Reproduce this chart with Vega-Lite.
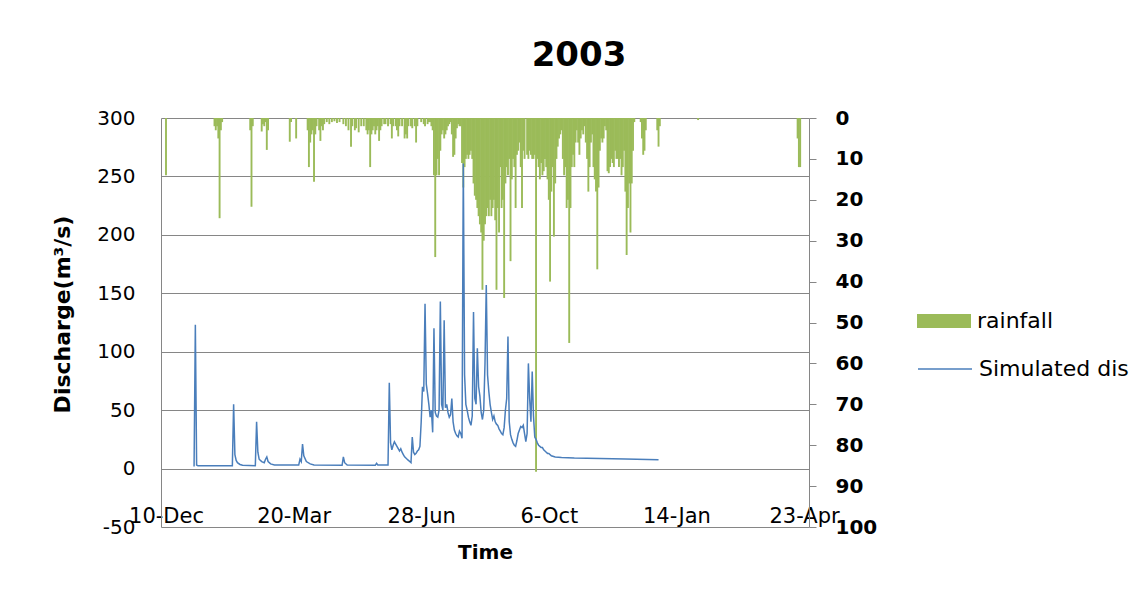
{
  "$schema": "https://vega.github.io/schema/vega-lite/v6.json",
  "width": 648,
  "height": 409,
  "autosize": {"type": "none"},
  "padding": {"left": 161, "top": 118, "right": 330, "bottom": 78},
  "background": "white",
  "config": {
    "view": {"stroke": null},
    "font": "DejaVu Sans",
    "axis": {"labelFont": "DejaVu Sans", "titleFont": "DejaVu Sans", "labelColor": "#000", "titleColor": "#000"}
  },
  "title": {
    "text": "2003",
    "font": "DejaVu Sans",
    "fontSize": 34,
    "fontWeight": "bold",
    "color": "#000",
    "anchor": "middle",
    "frame": "group",
    "baseline": "alphabetic",
    "dx": 94,
    "offset": 8
  },
  "datasets": {
    "rain": [
      {"d": 0, "r": 14},
      {"d": 38, "r": 2}, {"d": 39, "r": 3}, {"d": 40, "r": 2}, {"d": 41, "r": 5}, {"d": 42, "r": 24.5}, {"d": 43, "r": 3}, {"d": 44, "r": 1},
      {"d": 66, "r": 3}, {"d": 67, "r": 21.7}, {"d": 68, "r": 2},
      {"d": 75, "r": 3.3}, {"d": 76, "r": 1.5}, {"d": 77, "r": 2}, {"d": 78, "r": 1}, {"d": 79, "r": 7.8}, {"d": 80, "r": 3},
      {"d": 97, "r": 5.8}, {"d": 98, "r": 1}, {"d": 102, "r": 5},
      {"d": 111, "r": 3}, {"d": 112, "r": 12}, {"d": 113, "r": 6}, {"d": 114, "r": 4}, {"d": 115, "r": 3}, {"d": 116, "r": 15.6}, {"d": 117, "r": 4}, {"d": 118, "r": 2},
      {"d": 120, "r": 3}, {"d": 121, "r": 5.6}, {"d": 122, "r": 2}, {"d": 123, "r": 3}, {"d": 124, "r": 1.5},
      {"d": 126, "r": 1}, {"d": 128, "r": 1.5}, {"d": 130, "r": 1}, {"d": 132, "r": 0.8}, {"d": 134, "r": 1.2}, {"d": 136, "r": 1},
      {"d": 139, "r": 1.5}, {"d": 141, "r": 2}, {"d": 143, "r": 3}, {"d": 145, "r": 7}, {"d": 146, "r": 2},
      {"d": 148, "r": 3}, {"d": 149, "r": 2.5}, {"d": 151, "r": 3.5}, {"d": 153, "r": 2}, {"d": 155, "r": 2}, {"d": 157, "r": 3}, {"d": 158, "r": 4}, {"d": 159, "r": 3},
      {"d": 160, "r": 12}, {"d": 161, "r": 4}, {"d": 162, "r": 3}, {"d": 163, "r": 2}, {"d": 164, "r": 4}, {"d": 165, "r": 3}, {"d": 166, "r": 2}, {"d": 167, "r": 5.6}, {"d": 168, "r": 3}, {"d": 169, "r": 2},
      {"d": 171, "r": 1.5}, {"d": 172, "r": 1.5}, {"d": 174, "r": 2}, {"d": 176, "r": 1.5}, {"d": 177, "r": 5}, {"d": 178, "r": 2}, {"d": 180, "r": 2}, {"d": 181, "r": 3}, {"d": 182, "r": 4.5}, {"d": 183, "r": 2},
      {"d": 185, "r": 2}, {"d": 187, "r": 5}, {"d": 188, "r": 4}, {"d": 189, "r": 5}, {"d": 190, "r": 2}, {"d": 192, "r": 2}, {"d": 193, "r": 2.5}, {"d": 195, "r": 2}, {"d": 196, "r": 6}, {"d": 197, "r": 2},
      {"d": 200, "r": 1}, {"d": 202, "r": 1.5}, {"d": 203, "r": 2}, {"d": 205, "r": 1.5}, {"d": 206, "r": 1}, {"d": 207, "r": 1}, {"d": 208, "r": 2}, {"d": 209, "r": 3},
      {"d": 210, "r": 14}, {"d": 211, "r": 34}, {"d": 212, "r": 14}, {"d": 213, "r": 10}, {"d": 214, "r": 14}, {"d": 215, "r": 8}, {"d": 216, "r": 4}, {"d": 217, "r": 3}, {"d": 218, "r": 5}, {"d": 219, "r": 4},
      {"d": 220, "r": 3}, {"d": 221, "r": 2}, {"d": 222, "r": 1.5}, {"d": 223, "r": 1}, {"d": 224, "r": 4}, {"d": 225, "r": 9.5}, {"d": 226, "r": 9}, {"d": 227, "r": 5}, {"d": 228, "r": 2.5}, {"d": 229, "r": 1.5},
      {"d": 230, "r": 2}, {"d": 231, "r": 2}, {"d": 232, "r": 11}, {"d": 233, "r": 17}, {"d": 234, "r": 12}, {"d": 235, "r": 10}, {"d": 236, "r": 9}, {"d": 237, "r": 10}, {"d": 238, "r": 9}, {"d": 239, "r": 8},
      {"d": 240, "r": 10}, {"d": 241, "r": 16}, {"d": 242, "r": 19}, {"d": 243, "r": 20}, {"d": 244, "r": 22}, {"d": 245, "r": 24}, {"d": 246, "r": 26}, {"d": 247, "r": 28}, {"d": 248, "r": 42}, {"d": 249, "r": 30},
      {"d": 250, "r": 26}, {"d": 251, "r": 24}, {"d": 252, "r": 22}, {"d": 253, "r": 24}, {"d": 254, "r": 20}, {"d": 255, "r": 24}, {"d": 256, "r": 22}, {"d": 257, "r": 20}, {"d": 258, "r": 25}, {"d": 259, "r": 42},
      {"d": 260, "r": 22}, {"d": 261, "r": 28}, {"d": 262, "r": 12}, {"d": 263, "r": 22}, {"d": 264, "r": 20}, {"d": 265, "r": 44}, {"d": 266, "r": 16}, {"d": 267, "r": 12}, {"d": 268, "r": 14}, {"d": 269, "r": 10},
      {"d": 270, "r": 35}, {"d": 271, "r": 15}, {"d": 272, "r": 10}, {"d": 273, "r": 12}, {"d": 274, "r": 22}, {"d": 275, "r": 9}, {"d": 276, "r": 8}, {"d": 277, "r": 6}, {"d": 278, "r": 12}, {"d": 279, "r": 22},
      {"d": 280, "r": 8}, {"d": 281, "r": 10}, {"d": 283, "r": 9}, {"d": 284, "r": 10}, {"d": 285, "r": 8}, {"d": 286, "r": 9}, {"d": 287, "r": 10}, {"d": 288, "r": 10}, {"d": 289, "r": 9},
      {"d": 290, "r": 86.5}, {"d": 291, "r": 10}, {"d": 292, "r": 12}, {"d": 293, "r": 15}, {"d": 294, "r": 11}, {"d": 295, "r": 14}, {"d": 296, "r": 13}, {"d": 297, "r": 10}, {"d": 298, "r": 12}, {"d": 299, "r": 15},
      {"d": 300, "r": 20}, {"d": 301, "r": 40}, {"d": 302, "r": 18}, {"d": 303, "r": 12}, {"d": 304, "r": 29}, {"d": 305, "r": 16}, {"d": 306, "r": 10}, {"d": 307, "r": 7}, {"d": 308, "r": 5}, {"d": 309, "r": 4},
      {"d": 310, "r": 3}, {"d": 311, "r": 10}, {"d": 312, "r": 14}, {"d": 313, "r": 12}, {"d": 314, "r": 22}, {"d": 315, "r": 20}, {"d": 316, "r": 55}, {"d": 317, "r": 22}, {"d": 318, "r": 12}, {"d": 319, "r": 9},
      {"d": 320, "r": 12}, {"d": 321, "r": 6}, {"d": 322, "r": 3}, {"d": 323, "r": 6}, {"d": 324, "r": 9}, {"d": 325, "r": 5}, {"d": 326, "r": 3}, {"d": 327, "r": 4}, {"d": 328, "r": 2}, {"d": 329, "r": 6},
      {"d": 330, "r": 10}, {"d": 331, "r": 18}, {"d": 332, "r": 12}, {"d": 333, "r": 6}, {"d": 334, "r": 4}, {"d": 335, "r": 12}, {"d": 336, "r": 15}, {"d": 337, "r": 18}, {"d": 338, "r": 37}, {"d": 339, "r": 17},
      {"d": 340, "r": 8}, {"d": 341, "r": 5}, {"d": 342, "r": 6}, {"d": 343, "r": 5}, {"d": 344, "r": 2}, {"d": 345, "r": 3}, {"d": 346, "r": 13}, {"d": 347, "r": 13.5}, {"d": 348, "r": 12}, {"d": 349, "r": 10},
      {"d": 350, "r": 11}, {"d": 351, "r": 12}, {"d": 352, "r": 8}, {"d": 353, "r": 10}, {"d": 354, "r": 10}, {"d": 355, "r": 12}, {"d": 356, "r": 10}, {"d": 357, "r": 14}, {"d": 358, "r": 12}, {"d": 359, "r": 8},
      {"d": 360, "r": 18}, {"d": 361, "r": 33.5}, {"d": 362, "r": 22}, {"d": 363, "r": 16}, {"d": 364, "r": 28}, {"d": 365, "r": 16}, {"d": 366, "r": 8}, {"d": 367, "r": 1},
      {"d": 372, "r": 1}, {"d": 373, "r": 5}, {"d": 374, "r": 9}, {"d": 375, "r": 8}, {"d": 376, "r": 3},
      {"d": 385, "r": 3}, {"d": 386, "r": 7}, {"d": 387, "r": 2},
      {"d": 417, "r": 0.5},
      {"d": 495, "r": 5}, {"d": 496, "r": 12}, {"d": 497, "r": 12}
    ],
    "flow": [
      {"d": 22, "q": 1.7}, {"d": 23, "q": 123}, {"d": 24, "q": 3}, {"d": 25, "q": 2.5}, {"d": 52, "q": 2.5},
      {"d": 53, "q": 55}, {"d": 54, "q": 12}, {"d": 55, "q": 7}, {"d": 56, "q": 5}, {"d": 58, "q": 3.5}, {"d": 60, "q": 2.8}, {"d": 70, "q": 2.5},
      {"d": 71, "q": 40}, {"d": 72, "q": 14}, {"d": 73, "q": 8}, {"d": 75, "q": 6}, {"d": 77, "q": 5}, {"d": 78, "q": 8}, {"d": 79, "q": 10}, {"d": 80, "q": 6}, {"d": 82, "q": 4}, {"d": 85, "q": 3},
      {"d": 104, "q": 3}, {"d": 105, "q": 8}, {"d": 106, "q": 6}, {"d": 107, "q": 21}, {"d": 108, "q": 11}, {"d": 110, "q": 6}, {"d": 113, "q": 4}, {"d": 116, "q": 3},
      {"d": 138, "q": 2.8}, {"d": 139, "q": 10}, {"d": 140, "q": 5}, {"d": 142, "q": 3},
      {"d": 164, "q": 2.8}, {"d": 165, "q": 4.5}, {"d": 166, "q": 3}, {"d": 174, "q": 3},
      {"d": 175, "q": 73.5}, {"d": 176, "q": 22}, {"d": 177, "q": 16}, {"d": 178, "q": 20}, {"d": 179, "q": 23}, {"d": 180, "q": 21}, {"d": 181, "q": 19}, {"d": 182, "q": 17}, {"d": 183, "q": 15}, {"d": 184, "q": 17},
      {"d": 185, "q": 14}, {"d": 186, "q": 12}, {"d": 187, "q": 10}, {"d": 188, "q": 9}, {"d": 189, "q": 8}, {"d": 190, "q": 7}, {"d": 191, "q": 6}, {"d": 192, "q": 5}, {"d": 193, "q": 27}, {"d": 194, "q": 14},
      {"d": 195, "q": 12}, {"d": 196, "q": 13}, {"d": 197, "q": 15}, {"d": 198, "q": 16}, {"d": 199, "q": 19}, {"d": 200, "q": 40}, {"d": 201, "q": 70}, {"d": 202, "q": 66}, {"d": 203, "q": 141}, {"d": 204, "q": 72},
      {"d": 205, "q": 64}, {"d": 206, "q": 55}, {"d": 207, "q": 44}, {"d": 208, "q": 50}, {"d": 209, "q": 31}, {"d": 210, "q": 120}, {"d": 211, "q": 48}, {"d": 212, "q": 45}, {"d": 213, "q": 44}, {"d": 214, "q": 50},
      {"d": 215, "q": 143}, {"d": 216, "q": 55}, {"d": 217, "q": 50}, {"d": 218, "q": 127}, {"d": 219, "q": 52}, {"d": 220, "q": 55}, {"d": 221, "q": 48}, {"d": 222, "q": 44}, {"d": 223, "q": 46}, {"d": 224, "q": 60},
      {"d": 225, "q": 40}, {"d": 226, "q": 33}, {"d": 227, "q": 30}, {"d": 228, "q": 28}, {"d": 229, "q": 27}, {"d": 230, "q": 32}, {"d": 231, "q": 30}, {"d": 232, "q": 26}, {"d": 233, "q": 261}, {"d": 234, "q": 80},
      {"d": 235, "q": 55}, {"d": 236, "q": 50}, {"d": 237, "q": 44}, {"d": 238, "q": 40}, {"d": 239, "q": 37}, {"d": 240, "q": 45}, {"d": 241, "q": 134}, {"d": 242, "q": 60}, {"d": 243, "q": 55}, {"d": 244, "q": 103},
      {"d": 245, "q": 70}, {"d": 246, "q": 62}, {"d": 247, "q": 48}, {"d": 248, "q": 42}, {"d": 249, "q": 50}, {"d": 250, "q": 90}, {"d": 251, "q": 157}, {"d": 252, "q": 80}, {"d": 253, "q": 66}, {"d": 254, "q": 55},
      {"d": 255, "q": 48}, {"d": 256, "q": 42}, {"d": 257, "q": 45}, {"d": 258, "q": 40}, {"d": 259, "q": 38}, {"d": 260, "q": 37}, {"d": 261, "q": 34}, {"d": 262, "q": 32}, {"d": 263, "q": 30}, {"d": 264, "q": 29},
      {"d": 265, "q": 35}, {"d": 266, "q": 50}, {"d": 267, "q": 60}, {"d": 268, "q": 113}, {"d": 269, "q": 40}, {"d": 270, "q": 29}, {"d": 271, "q": 25}, {"d": 272, "q": 22}, {"d": 273, "q": 20}, {"d": 274, "q": 19},
      {"d": 275, "q": 24}, {"d": 276, "q": 30}, {"d": 277, "q": 33}, {"d": 278, "q": 36}, {"d": 279, "q": 35}, {"d": 280, "q": 37}, {"d": 281, "q": 30}, {"d": 282, "q": 23}, {"d": 283, "q": 30}, {"d": 284, "q": 90},
      {"d": 285, "q": 60}, {"d": 286, "q": 40}, {"d": 287, "q": 83}, {"d": 288, "q": 45}, {"d": 289, "q": 27}, {"d": 290, "q": 25}, {"d": 291, "q": 22}, {"d": 292, "q": 20}, {"d": 293, "q": 19}, {"d": 294, "q": 18},
      {"d": 295, "q": 18}, {"d": 296, "q": 16}, {"d": 297, "q": 15}, {"d": 298, "q": 14}, {"d": 299, "q": 13}, {"d": 300, "q": 13}, {"d": 302, "q": 11}, {"d": 305, "q": 10}, {"d": 310, "q": 9.5}, {"d": 320, "q": 9},
      {"d": 340, "q": 8.7}, {"d": 360, "q": 8.2}, {"d": 386, "q": 7.5}
    ]
  },
  "layer": [
    {
      "data": {"name": "rain"},
      "mark": {"type": "bar", "width": 1.9},
      "encoding": {
        "x": {
          "field": "d",
          "type": "quantitative",
          "scale": {"domain": [0, 500], "nice": false, "zero": false},
          "axis": {
            "values": [0, 100, 200, 300, 400, 500],
            "labelExpr": "timeFormat(datetime(2002, 11, 10 + datum.value), '%-d-%b')",
            "grid": false,
            "domain": false,
            "ticks": false,
            "tickSize": 0,
            "labelPadding": -22,
            "labelFlush": false,
            "labelOverlap": false,
            "labelFontSize": 21,
            "title": "Time",
            "titleFontSize": 20,
            "titleFontWeight": "bold",
            "titlePadding": 15
          }
        },
        "y": {
          "field": "r",
          "type": "quantitative",
          "scale": {"domain": [0, 100], "reverse": true, "nice": false},
          "axis": {
            "orient": "right",
            "values": [0, 10, 20, 30, 40, 50, 60, 70, 80, 90, 100],
            "grid": false,
            "domainColor": "#868686",
            "tickColor": "#868686",
            "tickSize": 7,
            "labelPadding": 19,
            "labelFontSize": 20,
            "labelFontWeight": "bold",
            "labelOverlap": false,
            "title": null
          }
        },
        "fill": {
          "datum": "rainfall",
          "type": "nominal",
          "scale": {"range": ["#9BBB59"]},
          "legend": {
            "title": null,
            "orient": "none",
            "legendX": 756,
            "legendY": 176,
            "padding": 0,
            "symbolType": "M-1,-0.26H1V0.26H-1Z",
            "symbolSize": 2916,
            "symbolStrokeWidth": 0,
            "labelFont": "DejaVu Sans",
            "labelFontSize": 22,
            "labelColor": "#000",
            "labelOffset": 6,
            "encode": {"symbols": {"update": {"fill": {"value": "#8DC84C"}}}}
          }
        }
      }
    },
    {
      "data": {"name": "flow"},
      "mark": {"type": "line", "strokeWidth": 1.5},
      "encoding": {
        "x": {"field": "d", "type": "quantitative"},
        "y": {
          "field": "q",
          "type": "quantitative",
          "scale": {"domain": [-50, 300], "nice": false, "zero": false},
          "axis": {
            "orient": "left",
            "values": [-50, 0, 50, 100, 150, 200, 250, 300],
            "labelExpr": "'' + datum.value",
            "grid": true,
            "gridColor": "#868686",
            "gridWidth": 1,
            "domainColor": "#868686",
            "ticks": false,
            "tickSize": 0,
            "labelPadding": 26,
            "labelFontSize": 20,
            "labelOverlap": false,
            "title": "Discharge(m³/s)",
            "titleFontSize": 22,
            "titleFontWeight": "bold",
            "titlePadding": 22,
            "titleY": 196
          }
        },
        "stroke": {
          "datum": "Simulated dis",
          "type": "nominal",
          "scale": {"range": ["#4A7EBB"]},
          "legend": {
            "title": null,
            "orient": "none",
            "legendX": 756,
            "legendY": 223,
            "padding": 0,
            "symbolType": "stroke",
            "symbolSize": 2916,
            "symbolStrokeWidth": 1.3,
            "labelFont": "DejaVu Sans",
            "labelFontSize": 22,
            "labelColor": "#000",
            "labelOffset": 6
          }
        }
      }
    }
  ],
  "resolve": {"scale": {"y": "independent"}}
}
